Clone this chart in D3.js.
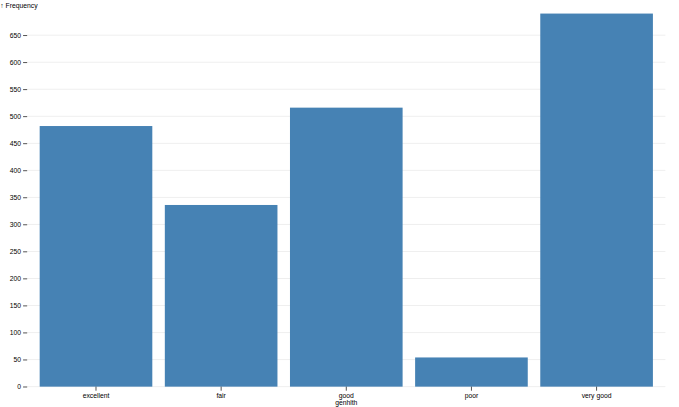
<!DOCTYPE html>
<html>
<head>
<meta charset="utf-8">
<script src="https://cdn.jsdelivr.net/npm/d3@7"></script>
<style>
  html, body { margin: 0; padding: 0; background: #fff; }
  svg { display: block; font-family: "Liberation Sans", Arial, Helvetica, sans-serif; }
</style>
</head>
<body>
<div class="viz"></div>
<script>
// values
var categories = ["excellent", "fair", "good", "poor", "very good"];
var counts = [482, 336, 516, 54, 690];
var xLabel = "genhlth";
var yLabel = "↑ Frequency";

// drawn at 1000x600 and scaled down to the window, like the original
var W = 1000, H = 600;
var margin = { top: 20, right: 20, bottom: 30, left: 40 };

var svg = d3.select('.viz').append('svg')
    .attr('width', 679)
    .attr('height', 407)
    .attr('viewBox', '0 0 ' + W + ' ' + H)
    .attr('preserveAspectRatio', 'none')
    .style('font-size', '10px');

var x = d3.scaleBand()
    .domain(categories)
    .range([margin.left, W - margin.right])
    .padding(0.1);

var y = d3.scaleLinear()
    .domain([0, d3.max(counts)])
    .range([H - margin.bottom, margin.top]);

var yTicks = y.ticks(16);

// grid
svg.append('g')
    .attr('stroke', 'currentColor')
    .attr('stroke-opacity', 0.1)
    .selectAll('line')
    .data(yTicks)
    .enter().append('line')
    .attr('x1', margin.left)
    .attr('x2', W - margin.right)
    .attr('y1', function (d) { return y(d); })
    .attr('y2', function (d) { return y(d); });

// y axis
var yAxis = svg.append('g')
    .attr('transform', 'translate(' + margin.left + ',0)')
    .call(d3.axisLeft(y).tickValues(yTicks).tickSize(6).tickPadding(3));
yAxis.select('.domain').remove();
yAxis.selectAll('text').style('font-size', '10px').style('font-family', null);

svg.append('text')
    .attr('x', 0.5)
    .attr('y', 5)
    .attr('dy', '0.71em')
    .attr('fill', 'currentColor')
    .text(yLabel);

// bars
svg.append('g')
    .attr('fill', 'steelblue')
    .selectAll('rect')
    .data(categories)
    .enter().append('rect')
    .attr('x', function (d) { return x(d); })
    .attr('width', x.bandwidth())
    .attr('y', function (d, i) { return y(counts[i]); })
    .attr('height', function (d, i) { return y(0) - y(counts[i]); });

// x axis
var xAxis = svg.append('g')
    .attr('transform', 'translate(0,' + (H - margin.bottom) + ')')
    .call(d3.axisBottom(x).tickSize(6).tickPadding(3));
xAxis.select('.domain').remove();
xAxis.selectAll('text').style('font-size', '10px').style('font-family', null);

svg.append('text')
    .attr('x', (margin.left + W - margin.right) / 2)
    .attr('y', H - 3)
    .attr('text-anchor', 'middle')
    .attr('fill', 'currentColor')
    .text(xLabel);
</script>
</body>
</html>
